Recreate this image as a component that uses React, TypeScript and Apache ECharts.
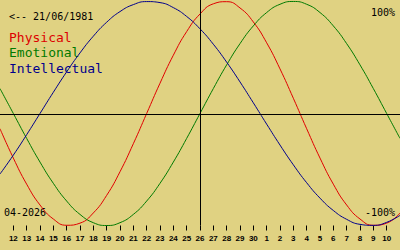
import React, { useEffect, useRef } from "react";
import * as echarts from "echarts";

// Dates shown on the x axis (April 11 .. May 11, 2026)
const DAYS: string[] = [
  "04-11", "04-12", "04-13", "04-14", "04-15", "04-16", "04-17", "04-18", "04-19", "04-20",
  "04-21", "04-22", "04-23", "04-24", "04-25", "04-26", "04-27", "04-28", "04-29", "04-30",
  "05-01", "05-02", "05-03", "05-04", "05-05", "05-06", "05-07", "05-08", "05-09", "05-10", "05-11",
];

const PHYSICAL: number[] = [
  -0.136, -0.398, -0.631, -0.817, -0.942, -0.998, -0.979, -0.888, -0.731, -0.52,
  -0.27, 0, 0.27, 0.52, 0.731, 0.888, 0.979, 0.998, 0.942, 0.817,
  0.631, 0.398, 0.136, -0.136, -0.398, -0.631, -0.817, -0.942, -0.998, -0.979, -0.888,
];

const EMOTIONAL: number[] = [
  0.2225, 0, -0.2225, -0.4339, -0.6235, -0.7818, -0.901, -0.9749, -1, -0.9749,
  -0.901, -0.7818, -0.6235, -0.4339, -0.2225, 0, 0.2225, 0.4339, 0.6235, 0.7818,
  0.901, 0.9749, 1, 0.9749, 0.901, 0.7818, 0.6235, 0.4339, 0.2225, 0, -0.2225,
];

const INTELLECTUAL: number[] = [
  -0.5406, -0.3717, -0.1893, 0, 0.1893, 0.3717, 0.5406, 0.6901, 0.8146, 0.9096,
  0.9718, 0.9989, 0.9898, 0.945, 0.866, 0.7557, 0.6182, 0.4582, 0.2817, 0.0951,
  -0.0951, -0.2817, -0.4582, -0.6182, -0.7557, -0.866, -0.945, -0.9898, -0.9989, -0.9718, -0.9096,
];

const TODAY_INDEX = 15;
const ZERO_LINE = -0.013;
const BIRTH_LABEL = "<-- 21/06/1981";
const MONTH_LABEL = "04-2026";
const NAMES = ["Physical", "Emotional", "Intellectual"];
const COLORS = ["#e00000", "#007a00", "#00008c"];
const TEXT_COLORS = ["#dd0000", "#007a00", "#00008c"];

const MONO = "DejaVu Sans Mono";

export default function App() {
  const ref = useRef<HTMLDivElement>(null);

  useEffect(() => {
    if (!ref.current) return;
    const chart = echarts.init(ref.current, undefined, { renderer: "svg" });
    const last = DAYS.length - 1;
    const showIdx = (i: number) => i > 0 && i < last;
    const mkText = (
      text: string,
      x: number,
      y: number,
      fill: string,
      size: number,
      align: string = "left"
    ) => ({
      type: "text",
      x,
      y,
      silent: true,
      style: {
        text,
        fill,
        fontSize: size,
        fontFamily: MONO,
        align,
        verticalAlign: "middle",
        textAlign: align,
        textVerticalAlign: "middle",
      },
    });

    chart.setOption({
      animation: false,
      backgroundColor: "#e0d282",
      grid: { left: 0, right: 0, top: 0, bottom: 24.5 },
      xAxis: {
        type: "category",
        data: DAYS,
        boundaryGap: false,
        position: "bottom",
        axisLine: { show: false, onZero: false },
        axisTick: {
          show: true,
          length: 5,
          interval: (i: number) => showIdx(i),
          lineStyle: { color: "#000", width: 1 },
        },
        axisLabel: {
          show: true,
          interval: (i: number) => showIdx(i),
          margin: 9,
          color: "#000",
          fontSize: 8,
          fontWeight: "bold",
          fontFamily: "Liberation Sans",
          formatter: (v: string) => String(Number(v.slice(3))),
        },
        splitLine: { show: false },
      },
      yAxis: {
        type: "value",
        min: -1,
        max: 1.013,
        show: false,
        splitLine: { show: false },
      },
      series: [
        {
          name: NAMES[0],
          type: "line",
          data: PHYSICAL,
          smooth: true,
          showSymbol: false,
          lineStyle: { color: COLORS[0], width: 1 },
          itemStyle: { color: COLORS[0] },
          z: 3,
          markLine: {
            silent: true,
            symbol: "none",
            label: { show: false },
            lineStyle: { color: "#000", width: 1, type: "solid" },
            data: [{ xAxis: TODAY_INDEX }, { yAxis: ZERO_LINE }],
          },
        },
        {
          name: NAMES[1],
          type: "line",
          data: EMOTIONAL,
          smooth: true,
          showSymbol: false,
          lineStyle: { color: COLORS[1], width: 1 },
          itemStyle: { color: COLORS[1] },
          z: 3,
        },
        {
          name: NAMES[2],
          type: "line",
          data: INTELLECTUAL,
          smooth: true,
          showSymbol: false,
          lineStyle: { color: COLORS[2], width: 1 },
          itemStyle: { color: COLORS[2] },
          z: 3,
        },
      ],
      graphic: [
        mkText(BIRTH_LABEL, 9, 16.7, "#000", 10),
        mkText(NAMES[0], 9, 37.7, TEXT_COLORS[0], 13),
        mkText(NAMES[1], 9, 52.8, TEXT_COLORS[1], 13),
        mkText(NAMES[2], 9, 68, TEXT_COLORS[2], 13),
        mkText("100%", 395, 12.7, "#000", 10, "right"),
        mkText("-100%", 395, 212.7, "#000", 10, "right"),
        mkText(MONTH_LABEL, 4, 212.4, "#000", 10),
      ],
    } as any);
    return () => chart.dispose();
  }, []);

  return (
    <div
      ref={ref}
      style={{ position: "fixed", left: 0, top: 0, width: 400, height: 250 }}
    />
  );
}
